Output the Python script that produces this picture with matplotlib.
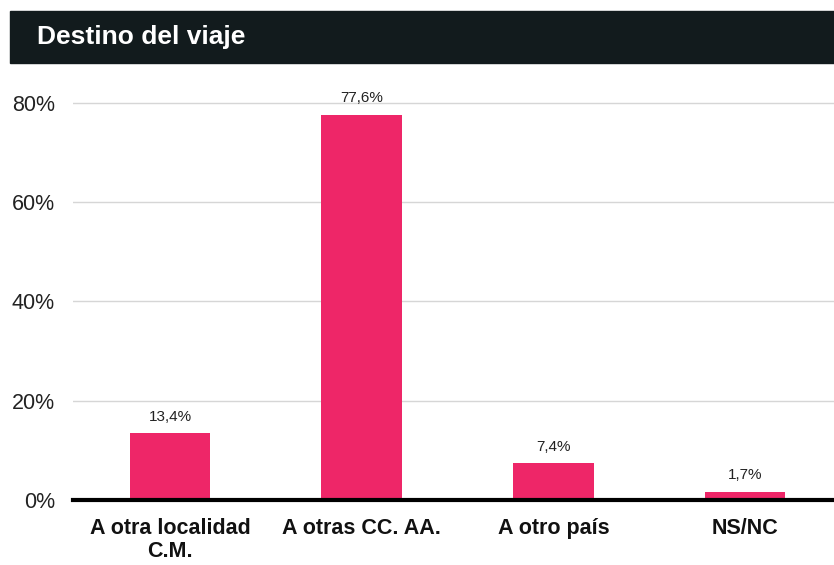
import matplotlib.pyplot as plt
from matplotlib.patches import Rectangle

categories = ['A otra localidad\nC.M.', 'A otras CC. AA.', 'A otro país', 'NS/NC']
values = [13.4, 77.6, 7.4, 1.7]
value_labels = ['13,4%', '77,6%', '7,4%', '1,7%']
y_ticks = [0, 20, 40, 60, 80]
title = 'Destino del viaje'

bar_color = '#ee2668'
header_color = '#121b1d'

plt.rcParams['font.family'] = ['Liberation Sans', 'DejaVu Sans']

fig = plt.figure(figsize=(8.34, 5.65), dpi=100)
W, H = 834, 565

# dark header band
fig.patches.append(Rectangle((10 / W, 1 - 63 / H), 1 - 10 / W, 52 / H,
                             transform=fig.transFigure, color=header_color, zorder=0))
fig.text(37 / W, 1 - 37 / H, title, color='white', fontsize=19, fontweight='bold',
         va='center', ha='left')

ax = fig.add_axes([73 / W, 1 - 500 / H, 1 - 73 / W, (500 - 83) / H])
x = range(len(categories))
ax.bar(x, values, width=0.42, color=bar_color, zorder=2)
ax.set_xlim(-0.506, 3.464)
ax.set_ylim(0, 84)

for xi, v, lab in zip(x, values, value_labels):
    ax.annotate(lab, (xi, v), xytext=(0, 7), textcoords='offset points',
                ha='center', va='bottom', fontsize=11, color='#222222')

ax.set_yticks(y_ticks)
ax.set_yticklabels([f'{t}%' for t in y_ticks], fontsize=15.5, color='#222222')
ax.tick_params(axis='y', length=0, pad=13)
ax.set_xticks(list(x))
ax.set_xticklabels(categories, fontsize=15.5, fontweight='bold', color='#111111', linespacing=1.15)
ax.tick_params(axis='x', length=0, pad=13)

ax.grid(axis='y', color='#d6d6d6', linewidth=1, zorder=0)
ax.set_axisbelow(True)
for s in ['top', 'right', 'left']:
    ax.spines[s].set_visible(False)
ax.spines['bottom'].set_linewidth(3)
ax.spines['bottom'].set_color('black')
ax.spines['bottom'].set_zorder(3)

fig.savefig('out.png', dpi=100)
